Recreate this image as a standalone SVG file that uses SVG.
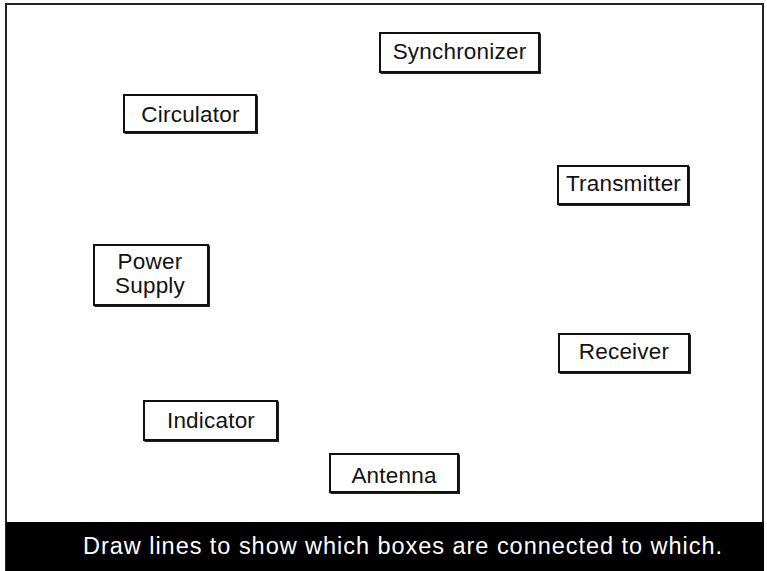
<svg xmlns="http://www.w3.org/2000/svg" width="767" height="571" viewBox="0 0 767 571">
<style>
.frame{fill:#fff;stroke:#222;stroke-width:2}
.shadow{fill:#222}
.box{fill:#fff;stroke:#111;stroke-width:2}
.lbl{font-family:"Liberation Sans",Arial,sans-serif;font-size:22.5px;letter-spacing:0.2px;fill:#111;text-anchor:middle}
.cap{font-family:"Liberation Sans",Arial,sans-serif;font-size:23.5px;fill:#fff}
</style>
<rect width="767" height="571" fill="#fff"/>
<rect class="frame" x="6" y="4" width="757" height="566"/>
<rect x="6" y="522" width="758" height="49" fill="#000"/>
<text class="cap" x="83" y="554" textLength="639" lengthAdjust="spacing">Draw lines to show which boxes are connected to which.</text>
<g id="connectors"></g>
<g id="synchronizer">
<rect class="shadow" x="380.5" y="33.5" width="160.5" height="40.5"/>
<rect class="box" x="380" y="33" width="159" height="39"/>
<text class="lbl" x="459.5" y="59">Synchronizer</text>
</g>
<g id="circulator">
<rect class="shadow" x="124.5" y="95.5" width="133.5" height="38.5"/>
<rect class="box" x="124" y="95" width="132" height="37"/>
<text class="lbl" x="190.5" y="122">Circulator</text>
</g>
<g id="transmitter">
<rect class="shadow" x="558.5" y="166.5" width="131.5" height="39.5"/>
<rect class="box" x="558" y="166" width="130" height="38"/>
<text class="lbl" x="623.5" y="191">Transmitter</text>
</g>
<g id="power-supply">
<rect class="shadow" x="94.5" y="245.5" width="115.5" height="61.5"/>
<rect class="box" x="94" y="245" width="114" height="60"/>
<text class="lbl" x="150" y="269">Power</text>
<text class="lbl" x="150" y="293">Supply</text>
</g>
<g id="receiver">
<rect class="shadow" x="559.5" y="334.5" width="131.5" height="39.5"/>
<rect class="box" x="559" y="334" width="130" height="38"/>
<text class="lbl" x="624" y="359">Receiver</text>
</g>
<g id="indicator">
<rect class="shadow" x="144.5" y="401.5" width="134.5" height="40.5"/>
<rect class="box" x="144" y="401" width="133" height="39"/>
<text class="lbl" x="211" y="428">Indicator</text>
</g>
<g id="antenna">
<rect class="shadow" x="330.5" y="454.5" width="129.5" height="39.5"/>
<rect class="box" x="330" y="454" width="128" height="38"/>
<text class="lbl" x="394" y="483">Antenna</text>
</g>
</svg>
